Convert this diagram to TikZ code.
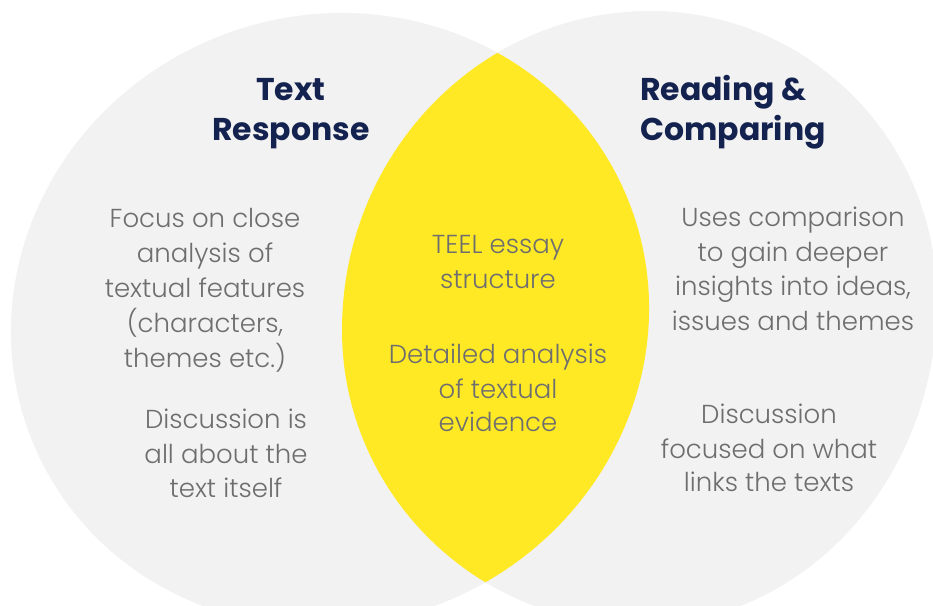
\documentclass[tikz,border=0pt]{standalone}
\usepackage{fontspec}
\newfontfamily\bodyfont{Poppins Light}
\newfontfamily\titlefont{Poppins Bold}
\definecolor{circgray}{HTML}{F2F2F2}
\definecolor{lensyellow}{HTML}{FFE925}
\definecolor{titlenavy}{HTML}{14224F}
\definecolor{bodygray}{HTML}{6E6E6E}
\tikzset{
  body/.style={anchor=base, inner sep=0pt, text=bodygray, font=\bodyfont\fontsize{26}{35}\selectfont},
  title/.style={anchor=base, inner sep=0pt, text=titlenavy, font=\titlefont\fontsize{31.5}{40}\selectfont},
  leftshape/.style={rotate around={22.3:(330,320)}},
}
\newcommand\rshapepath{(342,330) .. controls (342,153.8) and (479.9,11) .. (650,11)
  .. controls (808.5,11) and (937,140.4) .. (937,300)
  .. controls (937,479.5) and (804,625) .. (640,625)
  .. controls (475.4,625) and (342,492.9) .. (342,330) -- cycle}
\begin{document}
\begin{tikzpicture}[x=1pt,y=-1pt]
\useasboundingbox (0,0) rectangle (933,605);
\fill[white] (0,0) rectangle (933,605);
% circles
\fill[circgray, leftshape] (330,320) ellipse [x radius=321.4, y radius=304.5];
\fill[circgray] \rshapepath;
\begin{scope}
  \clip[leftshape] (330,320) ellipse [x radius=321.4, y radius=304.5];
  \fill[lensyellow] \rshapepath;
\end{scope}
% titles
\node[title] (tl1) at (291,100) {Text};
\node[title] (tl2) at (291,140) {Response};
\node[title, anchor=base west] (tr1) at (640,100) {Reading \&};
\node[title, anchor=base west] (tr2) at (640,140) {Comparing};
% left block 1
\node[body] (la1) at (205,227) {Focus on close};
\node[body] (la2) at (205,262) {analysis of};
\node[body] (la3) at (205,297) {textual features};
\node[body] (la4) at (205,332) {(characters,};
\node[body] (la5) at (205,367) {themes etc.)};
% left block 2
\node[body] (lb1) at (226,428) {Discussion is};
\node[body] (lb2) at (226,463) {all about the};
\node[body] (lb3) at (226,497) {text itself};
% centre
\node[body] (ca1) at (498,253) {TEEL essay};
\node[body] (ca2) at (498,288) {structure};
\node[body] (cb1) at (498,363) {Detailed analysis};
\node[body] (cb2) at (498,398) {of textual};
\node[body] (cb3) at (498,431) {evidence};
% right block 1
\node[body] (ra1) at (793,226) {Uses comparison};
\node[body] (ra2) at (793,261) {to gain deeper};
\node[body] (ra3) at (793,295) {insights into ideas,};
\node[body] (ra4) at (793,330) {issues and themes};
% right block 2
\node[body] (rb1) at (769,423) {Discussion};
\node[body] (rb2) at (769,458) {focused on what};
\node[body] (rb3) at (769,491) {links the texts};
\end{tikzpicture}
\end{document}
